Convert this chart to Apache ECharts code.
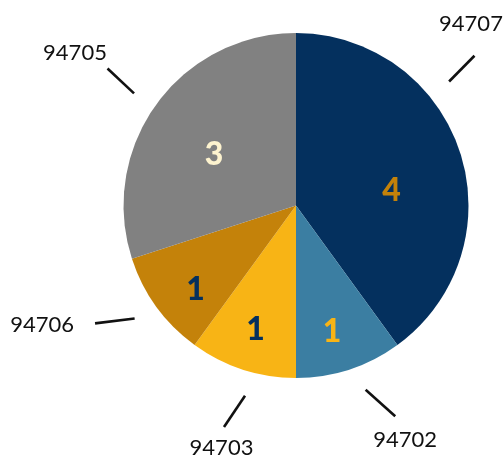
<!DOCTYPE html>
<html><head><meta charset="utf-8">
<script src="https://cdn.jsdelivr.net/npm/echarts@6/dist/echarts.min.js"></script>
<style>html,body{margin:0;padding:0;background:#fff}#c{width:503px;height:460px}</style>
</head><body><div id="c"></div>
<script>
// ---- data ----
const categories = ['94707', '94702', '94703', '94706', '94705'];
const values = [4, 1, 1, 1, 3];

// ---- styles / layout ----
const sliceColors = ['#04305e', '#3b7ea2', '#f8b415', '#c4820a', '#818181'];
const innerLabelColors = ['#c4820a', '#f8b415', '#04305e', '#04305e', '#fdf3cf'];
const CX = 296, CY = 205.5, R = 172.5;
const innerAngleShift = [9, 2, 0, -4, -4];
const lineStartShift = [-21, -2.7, -3, 1, -1.3];
const lineEndShift = [-22, -7.2, 0, 5.6, 0];
const textOffset = [[-3.5, -32], [10, 24], [-2.5, 21], [-53, 1.5], [-32.5, -16]];
const R1 = 197, R2 = 233;

const total = values.reduce((a, b) => a + b, 0);
const mids = []; let acc = 0;
values.forEach(v => { mids.push((acc + v / 2) / total * 360); acc += v; });
function pt(deg, r) { const a = deg * Math.PI / 180; return [CX + r * Math.sin(a), CY - r * Math.cos(a)]; }

const chart = echarts.init(document.getElementById('c'), null, { renderer: 'canvas' });
chart.setOption({
  animation: false,
  series: [
    {
      type: 'pie', center: [CX, CY], radius: R, startAngle: 90, clockwise: true,
      avoidLabelOverlap: false, silent: true,
      data: categories.map((c, i) => ({
        name: c, value: values[i],
        itemStyle: { color: sliceColors[i] },
        label: { color: innerLabelColors[i] }
      })),
      label: {
        show: true, position: 'inside', formatter: '{c}',
        fontSize: 32, fontWeight: 900, fontFamily: 'Lato'
      },
      labelLine: { show: false },
      labelLayout: function (p) {
        const i = p.dataIndex;
        const rr = values[i] / total >= 0.3 ? R * 0.56 : R * 0.76;
        const q = pt(mids[i] + innerAngleShift[i], rr);
        return { x: q[0], y: q[1], align: 'center', verticalAlign: 'middle' };
      }
    },
    {
      type: 'pie', center: [CX, CY], radius: R, startAngle: 90, clockwise: true,
      avoidLabelOverlap: false, silent: true, z: 1,
      data: categories.map((c, i) => ({
        name: c, value: values[i], itemStyle: { color: 'rgba(0,0,0,0)' }
      })),
      label: {
        show: true, position: 'outside', formatter: '{b}',
        fontSize: 22, color: '#111', fontFamily: 'Lato'
      },
      labelLine: { show: true, length: 20, length2: 0, lineStyle: { color: '#111', width: 2.6 } },
      labelLayout: function (p) {
        const i = p.dataIndex;
        const a = pt(mids[i] + lineStartShift[i], R1);
        const b = pt(mids[i] + lineEndShift[i], R2);
        return {
          x: b[0] + textOffset[i][0], y: b[1] + textOffset[i][1],
          align: 'center', verticalAlign: 'middle',
          labelLinePoints: [a, b]
        };
      }
    }
  ]
});
</script>
</body></html>
